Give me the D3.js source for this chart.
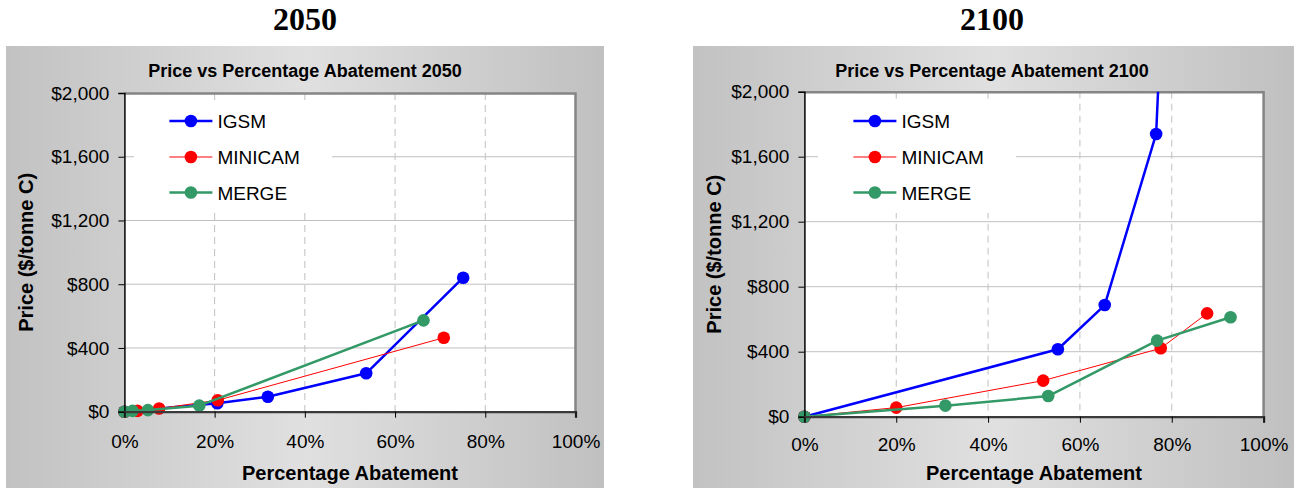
<!DOCTYPE html>
<html>
<head>
<meta charset="utf-8">
<script src="https://cdn.jsdelivr.net/npm/d3@7/dist/d3.min.js"></script>
<style>
  body { margin: 0; background: #fff; }
  svg text { font-family: "Liberation Sans", Arial, sans-serif; fill: #000; }
</style>
</head>
<body>
<svg id="chart" width="1294" height="488"></svg>
<script>
// tick values
const pctTicks = [0, 20, 40, 60, 80, 100];
const priceTicks = [0, 400, 800, 1200, 1600, 2000];

// series: [percentage abatement, price $/tonne C]
const seriesNames = ["IGSM", "MINICAM", "MERGE"];
const seriesColors = ["#0000ff", "#ff0000", "#339966"];

const igsm2050 = [[0, 0], [20.6, 53], [31.8, 94], [53.6, 241], [75.1, 841]];
const minicam2050 = [[0, 0], [2.9, 5], [7.7, 20], [20.7, 72], [70.8, 464]];
const merge2050 = [[0, 0], [1.8, 5], [5.2, 10], [16.6, 38], [66.3, 573]];

// last IGSM 2100 point runs off the top of the chart
const igsm2100 = [[0, 0], [55.2, 415], [65.4, 687], [76.6, 1740], [77.8, 2500]];
const minicam2100 = [[0, 0], [20.0, 56], [52.0, 222], [77.6, 421], [87.7, 636]];
const merge2100 = [[0, 0], [30.7, 68], [53.1, 127], [76.8, 468], [92.8, 612]];

class AbatementChart {
  constructor(_svg, _year, _data, _layout) {
    this.svg = _svg;
    this.year = _year;
    this.data = _data;
    this.layout = _layout;

    this.initVis();
  }

  initVis() {
    let vis = this;
    let L = vis.layout;

    vis.width = L.plotRight - L.plotLeft;
    vis.height = L.plotBottom - L.plotTop;

    // gray gradient panel
    let gradId = "grad" + vis.year;
    let grad = vis.svg.append("defs").append("linearGradient")
        .attr("id", gradId)
        .attr("x1", "0%").attr("x2", "100%").attr("y1", "0%").attr("y2", "0%");
    grad.append("stop").attr("offset", "0%").attr("stop-color", "#c2c2c2");
    grad.append("stop").attr("offset", "50%").attr("stop-color", "#e0e0e0");
    grad.append("stop").attr("offset", "100%").attr("stop-color", "#c0c0c0");

    vis.svg.append("rect")
        .attr("x", L.panelX)
        .attr("y", 46)
        .attr("width", L.panelW)
        .attr("height", 488 - 46)
        .attr("fill", `url(#${gradId})`);

    // big year heading
    vis.svg.append("text")
        .attr("x", L.headingX)
        .attr("y", 30)
        .attr("text-anchor", "middle")
        .style("font-family", '"Liberation Serif", "Times New Roman", serif')
        .style("font-weight", "bold")
        .style("font-size", "32px")
        .text(vis.year);

    // chart title
    vis.svg.append("text")
        .attr("x", L.headingX)
        .attr("y", 77)
        .attr("text-anchor", "middle")
        .style("font-weight", "bold")
        .style("font-size", "18px")
        .text("Price vs Percentage Abatement " + vis.year);

    vis.g = vis.svg.append("g")
        .attr("transform", `translate(${L.plotLeft},${L.plotTop})`);

    vis.x = d3.scaleLinear().domain([0, 100]).range([0, vis.width]);
    vis.y = d3.scaleLinear().domain([0, 2000]).range([vis.height, 0]);

    vis.g.append("rect")
        .attr("width", vis.width)
        .attr("height", vis.height)
        .attr("fill", "#fff");

    // horizontal gridlines
    vis.g.selectAll(".hgrid")
        .data(priceTicks.slice(1, -1))
        .enter().append("line")
        .attr("class", "hgrid")
        .attr("x1", 0).attr("x2", vis.width)
        .attr("y1", d => vis.y(d)).attr("y2", d => vis.y(d))
        .attr("stroke", "#c0c0c0")
        .attr("stroke-width", 1);

    // vertical dashed gridlines
    vis.g.selectAll(".vgrid")
        .data(pctTicks.slice(1, -1))
        .enter().append("line")
        .attr("class", "vgrid")
        .attr("x1", d => vis.x(d)).attr("x2", d => vis.x(d))
        .attr("y1", 0).attr("y2", vis.height)
        .attr("stroke", "#c0c0c0")
        .attr("stroke-width", 1)
        .attr("stroke-dasharray", "7,5");

    // legend backing covers the gridlines
    vis.g.append("rect")
        .attr("x", L.legendBox[0])
        .attr("y", 100 - L.plotTop)
        .attr("width", L.legendBox[1] - L.legendBox[0])
        .attr("height", 113)
        .attr("fill", "#fff");

    // top and right frame
    vis.g.append("path")
        .attr("d", `M0,0.5H${vis.width}V${vis.height}`)
        .attr("fill", "none")
        .attr("stroke", "#858585")
        .attr("stroke-width", 2.5);

    vis.updateVis();
  }

  updateVis() {
    let vis = this;
    let L = vis.layout;

    let clipId = "clip" + vis.year;
    vis.g.append("clipPath").attr("id", clipId)
        .append("rect")
        .attr("x", -10).attr("y", 0)
        .attr("width", vis.width + 20).attr("height", vis.height + 10);

    let line = d3.line()
        .x(d => vis.x(d[0]))
        .y(d => vis.y(d[1]));

    let widths = [2.5, 1, 2.5];

    let serie = vis.g.append("g")
        .attr("clip-path", `url(#${clipId})`)
        .selectAll(".serie")
        .data(vis.data)
        .enter().append("g")
        .attr("class", "serie");

    serie.append("path")
        .attr("d", d => line(d))
        .attr("fill", "none")
        .attr("stroke", (d, i) => seriesColors[i])
        .attr("stroke-width", (d, i) => widths[i])
        .attr("stroke-linejoin", "round");

    serie.each(function(d, i) {
      d3.select(this).selectAll("circle")
          .data(d.filter(p => p[1] <= 2000))
          .enter().append("circle")
          .attr("cx", p => vis.x(p[0]))
          .attr("cy", p => vis.y(p[1]))
          .attr("r", 6.3)
          .attr("fill", seriesColors[i]);
    });

    // axes
    let yAxis = vis.g.append("g")
        .call(d3.axisLeft(vis.y)
            .tickValues(priceTicks)
            .tickSize(6)
            .tickPadding(9)
            .tickFormat(d => "$" + d3.format(",")(d)));

    let xAxis = vis.g.append("g")
        .attr("transform", `translate(0,${vis.height})`)
        .call(d3.axisBottom(vis.x)
            .tickValues(pctTicks)
            .tickSize(6)
            .tickPadding(L.xPad)
            .tickFormat(d => d + "%"));

    yAxis.select(".domain").attr("stroke", "#000").attr("stroke-width", 1.5);
    xAxis.select(".domain").attr("stroke", "#3a3a3a").attr("stroke-width", 2.2);
    vis.g.selectAll(".tick line").attr("stroke", "#000");
    vis.g.selectAll(".tick text")
        .style("font-size", "19px")
        .style("font-family", '"Liberation Sans", Arial, sans-serif')
        .attr("fill", "#000");

    // axis titles
    vis.g.append("text")
        .attr("x", vis.width / 2)
        .attr("y", 480 - L.plotTop)
        .attr("text-anchor", "middle")
        .style("font-weight", "bold")
        .style("font-size", "20px")
        .text("Percentage Abatement");

    vis.g.append("text")
        .attr("transform", `translate(${L.yTitleX - L.plotLeft},${vis.height / 2}) rotate(-90)`)
        .attr("text-anchor", "middle")
        .style("font-weight", "bold")
        .style("font-size", "20px")
        .text("Price ($/tonne C)");

    // legend
    let legend = vis.g.selectAll(".legend-item")
        .data(seriesNames)
        .enter().append("g")
        .attr("class", "legend-item")
        .attr("transform", (d, i) => `translate(${L.legendX},${[121, 157, 192.5][i] - L.plotTop})`);

    legend.append("line")
        .attr("x1", 0).attr("x2", 43)
        .attr("stroke", (d, i) => seriesColors[i])
        .attr("stroke-width", (d, i) => widths[i]);

    legend.append("circle")
        .attr("cx", 21.5)
        .attr("r", 6.3)
        .attr("fill", (d, i) => seriesColors[i]);

    legend.append("text")
        .attr("x", 48)
        .attr("y", 7)
        .style("font-size", "19px")
        .text(d => d);
  }
}

const svg = d3.select("#chart");

new AbatementChart(svg, "2050", [igsm2050, minicam2050, merge2050], {
  panelX: 6, panelW: 598, headingX: 305,
  plotLeft: 124.4, plotRight: 575.5, plotTop: 93, plotBottom: 411.7,
  xPad: 17, yTitleX: 33, legendX: 45, legendBox: [9.6, 207.6]
});

new AbatementChart(svg, "2100", [igsm2100, minicam2100, merge2100], {
  panelX: 693, panelW: 601, headingX: 992,
  plotLeft: 804.4, plotRight: 1263.6, plotTop: 91.7, plotBottom: 416.7,
  xPad: 15, yTitleX: 721, legendX: 49, legendBox: [13.6, 211.6]
});
</script>
</body>
</html>
